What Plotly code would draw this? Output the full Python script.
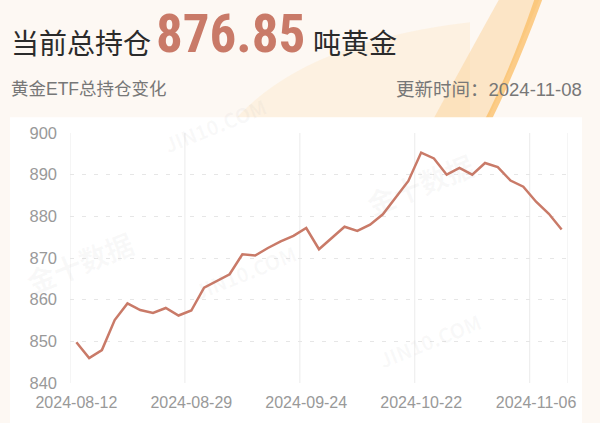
import plotly.graph_objects as go

dates = [
    "2024-08-12", "2024-08-13", "2024-08-14", "2024-08-15", "2024-08-16",
    "2024-08-19", "2024-08-21", "2024-08-23", "2024-08-27", "2024-08-29",
    "2024-08-30", "2024-09-03", "2024-09-05", "2024-09-09", "2024-09-11",
    "2024-09-13", "2024-09-17", "2024-09-20", "2024-09-24", "2024-09-26",
    "2024-09-30", "2024-10-02", "2024-10-04", "2024-10-08", "2024-10-11",
    "2024-10-15", "2024-10-18", "2024-10-22", "2024-10-23", "2024-10-24",
    "2024-10-25", "2024-10-28", "2024-10-29", "2024-10-30", "2024-10-31",
    "2024-11-04", "2024-11-06", "2024-11-07", "2024-11-08",
]
holdings = [
    849.8, 846.0, 847.9, 855.1, 859.1, 857.5, 856.8, 858.0, 856.2, 857.4,
    862.9, 864.5, 866.1, 870.9, 870.6, 872.4, 874.0, 875.3, 877.2, 872.1,
    874.7, 877.5, 876.5, 878.0, 880.5, 884.5, 888.5, 895.3, 893.9, 890.0,
    891.6, 890.0, 892.8, 891.8, 888.6, 887.1, 883.5, 880.6, 876.85,
]
tick_dates = ["2024-08-12", "2024-08-29", "2024-09-24", "2024-10-22", "2024-11-06"]
y_ticks = [840, 850, 860, 870, 880, 890, 900]

current_total = "876.85"
update_date = "2024-11-08"

W, H = 600, 423
L, R, T, B = 70, 32, 133, 35
PW, PH = W - L - R, H - T - B

def px(x):
    return (x - L) / PW

def py(y):
    return (H - B - y) / PH

LINE = "#c97a68"
CJK = "Noto Sans CJK SC"
LAT = "Liberation Sans, Arial, Noto Sans CJK SC"

fig = go.Figure()
fig.add_trace(go.Scatter(
    x=dates, y=holdings, mode="lines",
    line=dict(color=LINE, width=2.5),
    hoverinfo="skip", showlegend=False,
))

shapes = []
def pth(points):
    s = "M {} {}".format(px(points[0][0]), py(points[0][1]))
    for p in points[1:]:
        if len(p) == 4:
            s += " Q {} {} {} {}".format(px(p[0]), py(p[1]), px(p[2]), py(p[3]))
        else:
            s += " L {} {}".format(px(p[0]), py(p[1]))
    return s + " Z"

# header decorations
shapes.append(dict(type="path", xref="paper", yref="paper", layer="below",
                   path=pth([(230, 125), (300, 40, 470, 20), (470, 125)]),
                   fillcolor="rgba(253,232,205,0.45)", line=dict(width=0)))
shapes.append(dict(type="path", xref="paper", yref="paper", layer="below",
                   path=pth([(430, 125), (470, 50, 500, -5), (540, -5), (510, 70, 485, 125)]),
                   fillcolor="rgba(252,214,160,0.55)", line=dict(width=0)))
shapes.append(dict(type="path", xref="paper", yref="paper", layer="below",
                   path=pth([(482, 125), (510, 70, 535, -5), (543, -5), (516, 70, 489, 125)]),
                   fillcolor="rgba(251,190,100,0.75)", line=dict(width=0)))
# white panel
shapes.append(dict(type="rect", xref="paper", yref="paper", layer="below",
                   x0=px(10), x1=px(582), y0=py(440), y1=py(117),
                   fillcolor="white", line=dict(width=0)))
# vertical split lines at category boundaries
idx = [dates.index(d) for d in tick_dates]
for i in idx + [len(dates)]:
    shapes.append(dict(type="line", xref="x", yref="paper", layer="below",
                       x0=i - 0.5, x1=i - 0.5, y0=0, y1=1,
                       line=dict(color="#ebebeb", width=1)))

ann = []
ann.append(dict(text="当前总持仓", x=px(9), y=py(40), xanchor="left", yanchor="middle",
                font=dict(family=CJK, size=28, color="#2b2b2b")))
ann.append(dict(text="<b>" + current_total + "</b>", x=px(154), y=py(32), xanchor="left", yanchor="middle",
                font=dict(family="Roboto Condensed, Roboto", size=53, color=LINE)))
ann.append(dict(text="吨黄金", x=px(311), y=py(40), xanchor="left", yanchor="middle",
                font=dict(family=CJK, size=28, color="#2b2b2b")))
ann.append(dict(text="黄金ETF总持仓变化", x=px(9), y=py(88.5), xanchor="left", yanchor="middle",
                font=dict(family=LAT, size=17.5, color="#777777")))
ann.append(dict(text="更新时间：" + update_date, x=px(584), y=py(88.5), xanchor="right", yanchor="middle",
                font=dict(family=LAT, size=18.5, color="#777777")))
# faint watermarks
for (wx, wy, t, s) in [(80, 265, "金十数据", 28), (420, 185, "金十数据", 28),
                       (215, 125, "JIN10.COM", 20), (245, 275, "JIN10.COM", 20),
                       (430, 345, "JIN10.COM", 20)]:
    ann.append(dict(text="<b>" + t + "</b>", x=px(wx), y=py(wy), xanchor="center", yanchor="middle",
                    textangle=-22,
                    font=dict(family=CJK, size=s, color="rgba(150,150,150,0.06)")))
for a in ann:
    a["showarrow"] = False
    a["xref"] = "paper"
    a["yref"] = "paper"

fig.update_layout(
    width=W, height=H,
    margin=dict(l=L, r=R, t=T, b=B, pad=0),
    paper_bgcolor="#fdf8f3",
    plot_bgcolor="white",
    shapes=shapes,
    annotations=ann,
    showlegend=False,
    xaxis=dict(
        type="category", categoryorder="array", categoryarray=dates,
        range=[-0.5, len(dates) - 0.5],
        tickmode="array", tickvals=tick_dates, ticktext=tick_dates,
        showgrid=False, zeroline=False, showline=False, ticks="",
        tickfont=dict(family=LAT, size=16, color="#999999"),
        ticklabelstandoff=8,
        fixedrange=True,
    ),
    yaxis=dict(
        range=[840, 900], tickmode="array", tickvals=y_ticks,
        showgrid=True, gridcolor="#e6e6e6", griddash="4px,8px", gridwidth=1,
        zeroline=False, showline=False, ticks="",
        tickfont=dict(family=LAT, size=16.5, color="#999999"),
        ticklabelstandoff=12,
        fixedrange=True,
    ),
)

fig.write_html("out.html", config={"displayModeBar": False},
               post_script="document.body.style.margin='0';document.body.style.padding='0';")
